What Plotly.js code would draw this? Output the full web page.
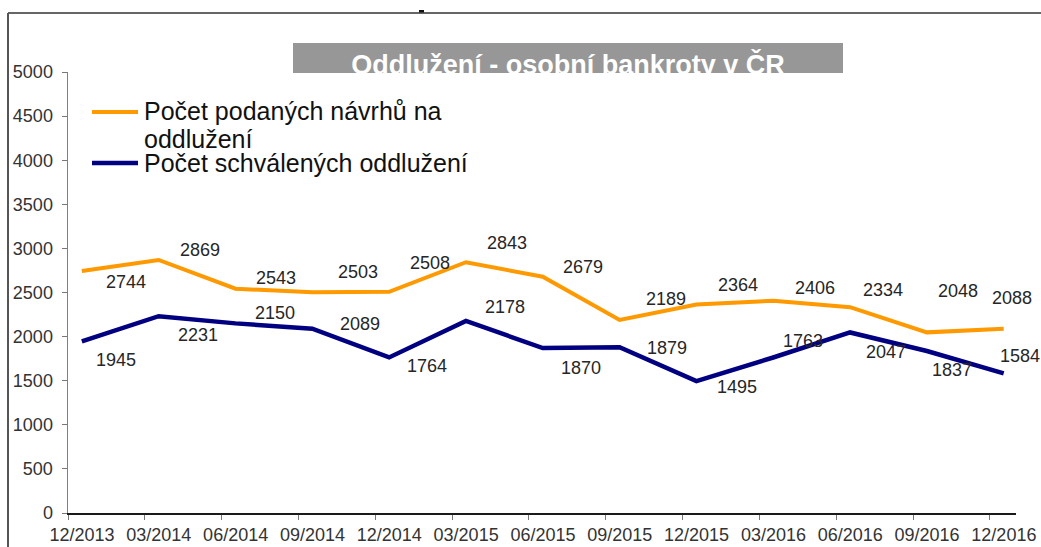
<!DOCTYPE html>
<html>
<head>
<meta charset="utf-8">
<script src="https://cdn.plot.ly/plotly-3.0.1.min.js"></script>
<style>html,body{margin:0;padding:0;background:#fff;}#chart{width:1041px;height:547px;}</style>
</head>
<body>
<div id="chart"></div>
<script>
// ---- data ----
const periods = ['12/2013','03/2014','06/2014','09/2014','12/2014','03/2015','06/2015','09/2015','12/2015','03/2016','06/2016','09/2016','12/2016'];
const filed = [2744, 2869, 2543, 2503, 2508, 2843, 2679, 2189, 2364, 2406, 2334, 2048, 2088];
const approved = [1945, 2231, 2150, 2089, 1764, 2178, 1870, 1879, 1495, 1763, 2047, 1837, 1584];
const seriesNames = ['Počet podaných návrhů na oddlužení', 'Počet schválených oddlužení'];
const legendLines = [['Počet podaných návrhů na', 'oddlužení'], ['Počet schválených oddlužení']];
const chartTitle = 'Oddlužení - osobní bankroty v ČR';
const colors = ['#FF9900', '#000080'];

// ---- label placement (pixels, separate from data) ----
const filedLabelDx = [44,41,41,46,41,41,40,46,42,42,33,31,8];
const filedLabelDy = [11,-10,-11,-20,-29,-19,-10,-21,-20,-13,-17,-41,-31];
const apprLabelDx = [34,39,40,48,38,39,38,47,41,30,36,25,16];
const apprLabelDy = [19,19,-10,-5,9,-14,20,1,6,-17,20,19,-17];

const POINT_OFFSET = 0.18; // points sit slightly right of the category ticks
const FONT = 'Liberation Sans, Arial, sans-serif';
const idx = periods.map((_, i) => i);
const xs = idx.map(i => i + POINT_OFFSET);

const traces = [
  {x: xs, y: filed, name: seriesNames[0], type: 'scatter', mode: 'lines',
   line: {color: colors[0], width: 4}, hoverinfo: 'y'},
  {x: xs, y: approved, name: seriesNames[1], type: 'scatter', mode: 'lines',
   line: {color: colors[1], width: 4.5}, hoverinfo: 'y'}
];

// paper helpers: plot area spans x 68..1016, y 72..513 (pixels)
const px = p => (p - 68) / 948;
const py = p => (513 - p) / 441;

const annotations = [];
filed.forEach((v, i) => annotations.push({x: xs[i], y: v, xref: 'x', yref: 'y', text: String(v),
  showarrow: false, xshift: filedLabelDx[i], yshift: -filedLabelDy[i],
  font: {family: FONT, size: 18, color: '#262626'}}));
approved.forEach((v, i) => annotations.push({x: xs[i], y: v, xref: 'x', yref: 'y', text: String(v),
  showarrow: false, xshift: apprLabelDx[i], yshift: -apprLabelDy[i],
  font: {family: FONT, size: 18, color: '#262626'}}));

// manual legend (text lines + line samples)
const legendTextY = [[110.5, 139.5], [162.5]];
const legendSampleY = [112, 163];
legendLines.forEach((lines, s) => lines.forEach((t, k) => annotations.push({
  xref: 'paper', yref: 'paper', x: px(142), y: py(legendTextY[s][k]), xanchor: 'left', yanchor: 'middle',
  text: t, showarrow: false, font: {family: FONT, size: 25, color: '#111111'}})));

const shapes = [
  // title box
  {type: 'rect', xref: 'paper', yref: 'paper', x0: px(293), x1: px(843), y0: py(73), y1: py(43),
   fillcolor: '#979797', line: {width: 0}, layer: 'below'},
  // outer frame lines
  {type: 'line', xref: 'paper', yref: 'paper', x0: px(8), x1: px(1045), y0: py(13), y1: py(13),
   line: {color: '#666666', width: 2}},
  {type: 'line', xref: 'paper', yref: 'paper', x0: px(8), x1: px(8), y0: py(13), y1: py(550),
   line: {color: '#555555', width: 2}},
  // small mark on top
  {type: 'rect', xref: 'paper', yref: 'paper', x0: px(419), x1: px(424), y0: py(12.5), y1: py(10),
   fillcolor: '#111111', line: {width: 0}},
  // legend samples
  {type: 'line', xref: 'paper', yref: 'paper', x0: px(92), x1: px(138), y0: py(legendSampleY[0]), y1: py(legendSampleY[0]),
   line: {color: colors[0], width: 4}},
  {type: 'line', xref: 'paper', yref: 'paper', x0: px(92), x1: px(138), y0: py(legendSampleY[1]), y1: py(legendSampleY[1]),
   line: {color: colors[1], width: 4.5}}
];

const layout = {
  width: 1041, height: 547,
  margin: {l: 68, r: 25, t: 72, b: 34, pad: 0},
  paper_bgcolor: '#ffffff', plot_bgcolor: 'rgba(0,0,0,0)',
  title: {text: chartTitle, xref: 'container', yref: 'container', x: 568 / 1041, y: 1 - 65 / 547,
    xanchor: 'center', yanchor: 'middle',
    font: {family: FONT, size: 27, color: '#ffffff', weight: 'bold'}},
  xaxis: {range: [0, 12.34], tickvals: idx, ticktext: periods, ticklabelshift: 14, showgrid: false, zeroline: false,
    showline: true, linecolor: '#1a1a1a', linewidth: 1.5, ticks: 'outside', ticklen: 5, tickcolor: '#777777',
    tickfont: {family: FONT, size: 18, color: '#333333'}, fixedrange: true},
  yaxis: {range: [0, 5000], dtick: 500, tick0: 0, showgrid: false, zeroline: false, ticklabelstandoff: 5,
    showline: true, linecolor: '#808080', linewidth: 1.5, ticks: 'outside', ticklen: 5, tickcolor: '#777777',
    tickfont: {family: FONT, size: 18, color: '#333333'}, fixedrange: true},
  showlegend: false,
  shapes: shapes,
  annotations: annotations
};

Plotly.newPlot('chart', traces, layout, {displayModeBar: false, staticPlot: true});
</script>
</body>
</html>
